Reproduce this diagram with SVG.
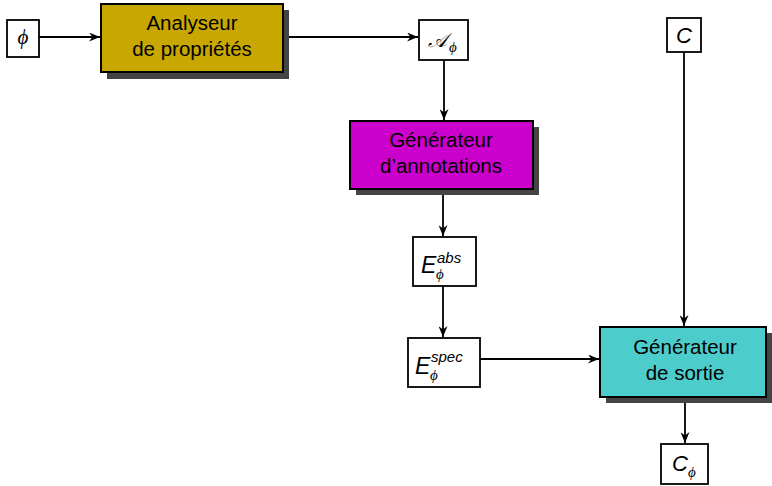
<svg xmlns="http://www.w3.org/2000/svg" width="772" height="486" viewBox="0 0 772 486">
  <style>
    .box { stroke: #000; stroke-width: 2; }
    .shadow { fill: #444; }
    .lbl { fill: #fff; stroke: #000; stroke-width: 1.8; }
    .t { font-family: "Liberation Sans", Arial, sans-serif; font-size: 20.5px; text-anchor: middle; fill: #000; }
    .m { font-family: "Liberation Sans", Arial, sans-serif; font-style: italic; fill: #000; }
    .phi { font-family: "Liberation Serif", "DejaVu Serif", serif; font-style: italic; fill: #000; }
    .wire { fill: none; stroke: #000; stroke-width: 1.8; }
  </style>
  <defs>
    <marker id="arr" viewBox="0 0 11 9" refX="11" refY="4.5" markerWidth="11" markerHeight="9" markerUnits="userSpaceOnUse" orient="auto">
      <path d="M0,0 L11,4.5 L0,9 L3.5,4.5 Z" fill="#000"/>
    </marker>
  </defs>
  <rect width="772" height="486" fill="#fff"/>

  <g id="wires">
    <path class="wire" d="M39,37 H100" marker-end="url(#arr)"/>
    <path class="wire" d="M283,37 H418" marker-end="url(#arr)"/>
    <path class="wire" d="M444,60 V120" marker-end="url(#arr)"/>
    <path class="wire" d="M443,195 V236" marker-end="url(#arr)"/>
    <path class="wire" d="M443,286 V337" marker-end="url(#arr)"/>
    <path class="wire" d="M480,359 H599" marker-end="url(#arr)"/>
    <path class="wire" d="M684,52 V326" marker-end="url(#arr)"/>
    <path class="wire" d="M685,403 V443" marker-end="url(#arr)"/>
  </g>

  <g id="phi">
    <rect class="lbl" x="7" y="20" width="32" height="37"/>
    <text class="phi" x="23" y="44" font-size="21" text-anchor="middle">ϕ</text>
  </g>

  <g id="analyseur">
    <rect class="shadow" x="107" y="10" width="182" height="69"/>
    <rect class="box" x="101" y="4" width="182" height="68" fill="#c8a800"/>
    <text class="t" x="192" y="30">Analyseur</text>
    <text class="t" x="192" y="56">de propriétés</text>
  </g>

  <g id="a-phi">
    <rect class="lbl" x="419" y="20" width="49" height="40"/>
    <text x="437" y="47" font-family="'DejaVu Serif', 'Liberation Serif', serif" font-style="italic" font-size="20" text-anchor="middle">𝒜</text>
    <text class="phi" x="453" y="52" font-size="15" text-anchor="middle">ϕ</text>
  </g>

  <g id="gen-annotations">
    <rect class="shadow" x="356" y="127" width="183" height="68"/>
    <rect class="box" x="350" y="121" width="183" height="68" fill="#cc00cc"/>
    <text class="t" x="441" y="147">Générateur</text>
    <text class="t" x="441" y="173">d’annotations</text>
  </g>

  <g id="e-abs">
    <rect class="lbl" x="413" y="237" width="63" height="49"/>
    <text class="m" x="421" y="273" font-size="23">E</text>
    <text class="m" x="437" y="263" font-size="15">abs</text>
    <text class="phi" x="436" y="279" font-size="15">ϕ</text>
  </g>

  <g id="e-spec">
    <rect class="lbl" x="408" y="338" width="72" height="49"/>
    <text class="m" x="415" y="374" font-size="23">E</text>
    <text class="m" x="431" y="362" font-size="15">spec</text>
    <text class="phi" x="430" y="380" font-size="15">ϕ</text>
  </g>

  <g id="gen-sortie">
    <rect class="shadow" x="606" y="333" width="166" height="70"/>
    <rect class="box" x="600" y="327" width="166" height="70" fill="#4dcccc"/>
    <text class="t" x="685" y="354">Générateur</text>
    <text class="t" x="685" y="380">de sortie</text>
  </g>

  <g id="c">
    <rect class="lbl" x="667" y="18" width="34" height="34"/>
    <text class="m" x="684" y="43" font-size="22" text-anchor="middle">C</text>
  </g>

  <g id="c-phi">
    <rect class="lbl" x="661" y="444" width="47" height="40"/>
    <text class="m" x="680" y="471" font-size="22" text-anchor="middle">C</text>
    <text class="phi" x="692" y="477" font-size="15" text-anchor="middle">ϕ</text>
  </g>
</svg>
